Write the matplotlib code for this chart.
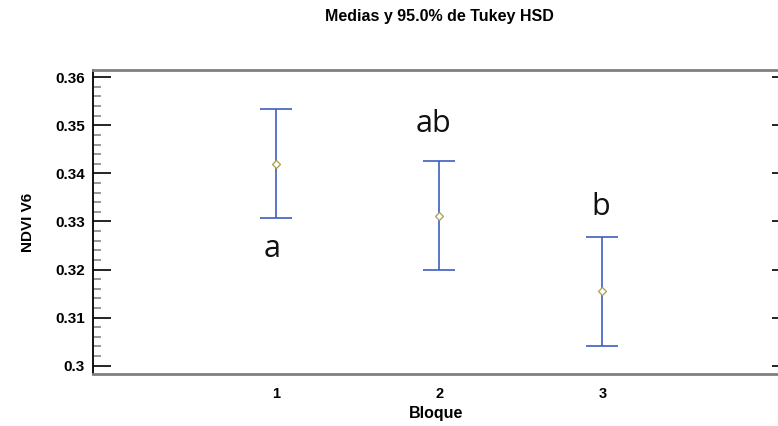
import matplotlib
matplotlib.use("Agg")
import matplotlib.pyplot as plt
from matplotlib.ticker import MultipleLocator, FixedLocator, NullFormatter

groups = [1, 2, 3]
means = [0.3420, 0.3312, 0.3155]
lower = [0.3307, 0.3199, 0.3041]
upper = [0.3533, 0.3426, 0.3267]
letters = ["a", "ab", "b"]
letter_x = [0.976, 1.965, 2.99]
letter_y = [0.3226, 0.3486, 0.3314]
yticks = [0.30, 0.31, 0.32, 0.33, 0.34, 0.35, 0.36]
ytick_labels = ["0.3", "0.31", "0.32", "0.33", "0.34", "0.35", "0.36"]

fig = plt.figure(figsize=(7.78, 4.26), dpi=100)
ax = fig.add_axes([93/778, 51.7/426, 1 - 93/778 + 0.002, (374.3 - 70)/426])

blue = "#3f5fbf"
for g, m, lo, hi in zip(groups, means, lower, upper):
    ax.errorbar([g], [m], yerr=[[m - lo], [hi - m]], fmt="none", ecolor=blue,
                elinewidth=1.2, capsize=11.5, capthick=1.2)
ax.plot(groups, means, linestyle="none", marker="D", markersize=4,
        markerfacecolor="white", markeredgecolor="#a8a050", markeredgewidth=0.9)

for x, y, t in zip(letter_x, letter_y, letters):
    ax.text(x, y, t, ha="center", va="baseline", fontsize=22,
            family="Open Sans", color="#111111")

ax.set_xlim(-0.12, 4.085)
ax.set_ylim(0.2982, 0.3615)

ax.set_xticks(groups)
ax.set_xticklabels([str(g) for g in groups], fontsize=10.5, fontweight="bold",
                   family="Liberation Sans")
ax.tick_params(axis="x", length=0, pad=9)

ax.yaxis.set_major_locator(FixedLocator(yticks))
ax.set_yticklabels(ytick_labels, fontsize=11, fontweight="bold", family="Liberation Sans")
ax.yaxis.set_minor_locator(MultipleLocator(0.002))
ax.tick_params(axis="y", which="major", direction="in", length=13, width=1.2,
               color="black", pad=6)
ax.tick_params(axis="y", which="minor", direction="in", length=6, width=1.2,
               color="#888888")

sec = ax.secondary_yaxis("right")
sec.yaxis.set_major_locator(FixedLocator(yticks))
sec.yaxis.set_major_formatter(NullFormatter())
sec.yaxis.set_minor_locator(MultipleLocator(0.002))
sec.tick_params(axis="y", which="major", direction="in", length=6, width=1.2, color="black")
sec.tick_params(axis="y", which="minor", direction="in", length=1.5, width=1.0, color="#cccccc")
sec.spines["right"].set_visible(False)

ax.spines["left"].set_color("black")
ax.spines["left"].set_linewidth(1.3)
for s in ["top", "bottom"]:
    ax.spines[s].set_color("#808080")
    ax.spines[s].set_linewidth(2)
ax.spines["right"].set_visible(False)

ax.set_xlabel("Bloque", fontsize=11.5, fontweight="bold", family="Liberation Sans", labelpad=4)
ax.set_ylabel("NDVI V6", fontsize=11, fontweight="bold", family="Liberation Sans", labelpad=14)

fig.text(439/778, 1 - 16/426, "Medias y 95.0% de Tukey HSD", ha="center", va="center",
         fontsize=11.5, fontweight="bold", family="Liberation Sans")

fig.savefig("out.png", dpi=100)
